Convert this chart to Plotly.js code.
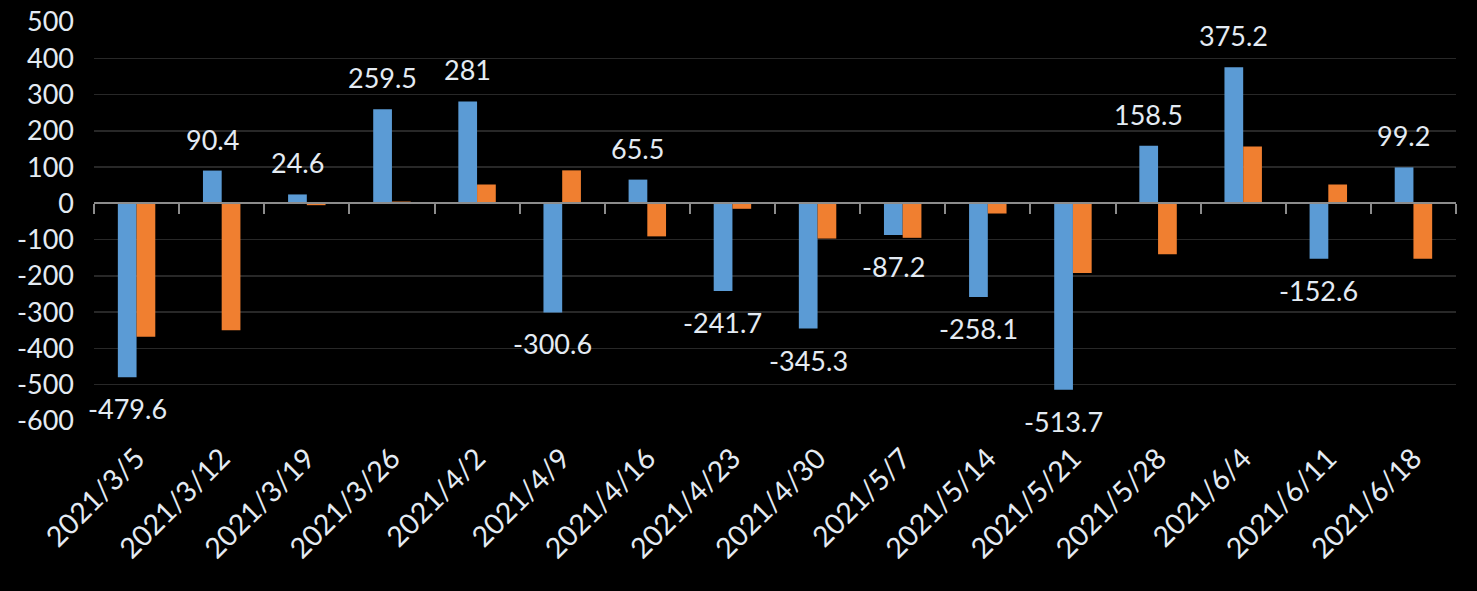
<!DOCTYPE html>
<html>
<head>
<meta charset="utf-8">
<script src="https://cdn.plot.ly/plotly-3.0.1.min.js"></script>
<style>
html,body{margin:0;padding:0;background:#000;}
#chart{width:1477px;height:591px;}
</style>
</head>
<body>
<div id="chart"></div>
<script>
var dates = ["2021/3/5","2021/3/12","2021/3/19","2021/3/26","2021/4/2","2021/4/9","2021/4/16","2021/4/23","2021/4/30","2021/5/7","2021/5/14","2021/5/21","2021/5/28","2021/6/4","2021/6/11","2021/6/18"];
var blueValues = [-479.6, 90.4, 24.6, 259.5, 281, -300.6, 65.5, -241.7, -345.3, -87.2, -258.1, -513.7, 158.5, 375.2, -152.6, 99.2];
var orangeValues = [-368, -350, -5, 5, 52, 91, -91, -15, -97, -95, -28, -192, -140, 157, 52, -153];
var yTicks = [500, 400, 300, 200, 100, 0, -100, -200, -300, -400, -500, -600];

var textColor = '#e4ebf3';
var fontFamily = 'Lato, "Open Sans", sans-serif';

var traces = [
  {
    type: 'bar', x: dates, y: blueValues, name: 'A',
    marker: {color: '#5b9bd5'}, hoverinfo: 'x+y'
  },
  {
    type: 'bar', x: dates, y: orangeValues, name: 'B',
    marker: {color: '#f07f30'}, hoverinfo: 'x+y'
  },
  {
    type: 'scatter', mode: 'markers', x: dates, y: blueValues, xaxis: 'x2',
    marker: {opacity: 0}, hoverinfo: 'skip', showlegend: false
  }
];

var annotations = blueValues.map(function (v, i) {
  return {
    x: dates[i], y: v, xref: 'x', yref: 'y',
    text: String(v), showarrow: false,
    xanchor: 'center', yanchor: v >= 0 ? 'bottom' : 'top',
    xshift: -9.5, yshift: v >= 0 ? 13 : -13,
    font: {color: textColor, size: 27, family: fontFamily}
  };
});

var layout = {
  width: 1477, height: 591,
  paper_bgcolor: '#000', plot_bgcolor: '#000',
  margin: {l: 94, r: 21, t: 22, b: 170},
  showlegend: false,
  barmode: 'group', bargap: 0.56, bargroupgap: 0,
  font: {family: fontFamily, color: textColor, size: 27},
  annotations: annotations,
  xaxis: {
    type: 'category', categoryorder: 'array', categoryarray: dates,
    range: [-0.5, 15.5],
    showgrid: false, zeroline: false, showline: false, ticks: '',
    tickangle: -45, ticklabelstandoff: 14,
    tickfont: {size: 28.5, color: textColor, family: fontFamily}
  },
  xaxis2: {
    type: 'category', categoryorder: 'array', categoryarray: dates,
    overlaying: 'x', matches: 'x', anchor: 'free', position: 600/1100,
    showgrid: false, zeroline: false, showline: true, linecolor: '#8c8c8c', linewidth: 2,
    ticks: 'outside', tickson: 'boundaries', ticklen: 10, tickcolor: '#8c8c8c', tickwidth: 2,
    showticklabels: false
  },
  yaxis: {
    range: [-600, 500], tickvals: yTicks, ticktext: yTicks.map(String),
    showgrid: true, gridcolor: '#282828', gridwidth: 1.5,
    zeroline: false, showline: false, ticks: '',
    ticklabelstandoff: 19,
    tickfont: {size: 27, color: textColor, family: fontFamily}
  }
};

Plotly.newPlot('chart', traces, layout, {displayModeBar: false, staticPlot: true});
</script>
</body>
</html>
